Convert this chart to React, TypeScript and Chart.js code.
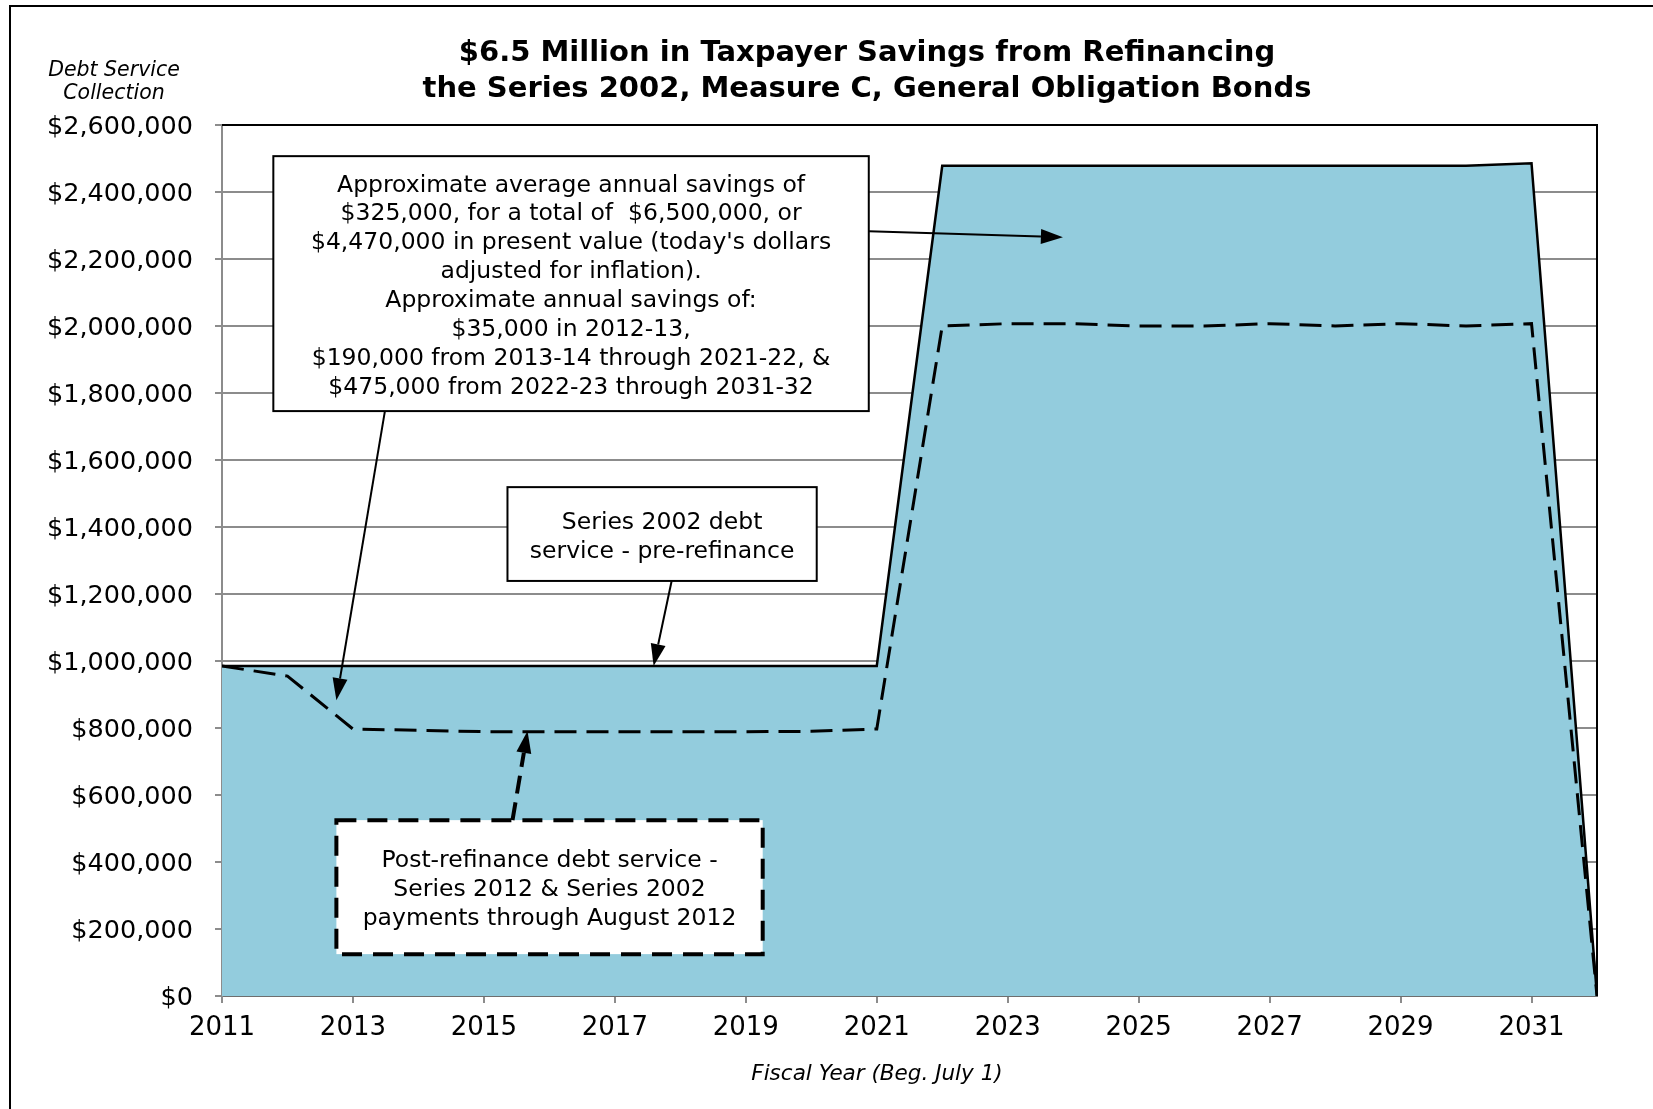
import React, { useEffect, useRef } from "react";
import { Chart, registerables } from "chart.js";

Chart.register(...registerables);

// ---------- data ----------
const years = [
  2011, 2012, 2013, 2014, 2015, 2016, 2017, 2018, 2019, 2020, 2021,
  2022, 2023, 2024, 2025, 2026, 2027, 2028, 2029, 2030, 2031, 2032,
];

// Series 2002 debt service - pre-refinance (solid line, filled)
const preRefinance = [
  985000, 985000, 985000, 985000, 985000, 985000, 985000, 985000, 985000, 985000, 985000,
  2478000, 2478000, 2478000, 2478000, 2478000, 2478000, 2478000, 2478000, 2478000, 2486000, 0,
];

// Post-refinance debt service (dashed line)
const postRefinance = [
  985000, 955000, 797000, 793000, 789000, 789000, 789000, 789000, 789000, 790000, 797000,
  2000000, 2007000, 2007000, 2000000, 2000000, 2007000, 2000000, 2007000, 2000000, 2007000, 0,
];

const xTickValues = [2011, 2013, 2015, 2017, 2019, 2021, 2023, 2025, 2027, 2029, 2031];
const yMin = 0;
const yMax = 2600000;
const yStep = 200000;

const titleLines = [
  "$6.5 Million in Taxpayer Savings from Refinancing",
  "the Series 2002, Measure C, General Obligation Bonds",
];
const yAxisTitleLines = ["Debt Service", "Collection"];
const xAxisTitle = "Fiscal Year (Beg. July 1)";

// annotation boxes in data units
const boxes = [
  {
    x1: 2011.784, x2: 2020.878, yTop: 2507000, yBottom: 1746000, dashed: false,
    lines: [
      "Approximate average annual savings of",
      "$325,000, for a total of  $6,500,000, or",
      "$4,470,000 in present value (today's dollars",
      "adjusted for inflation).",
      "Approximate annual savings of:",
      "$35,000 in 2012-13,",
      "$190,000 from 2013-14 through 2021-22, &",
      "$475,000 from 2022-23 through 2031-32",
    ],
  },
  {
    x1: 2015.36, x2: 2020.083, yTop: 1519000, yBottom: 1239000, dashed: false,
    lines: ["Series 2002 debt", "service - pre-refinance"],
  },
  {
    x1: 2012.747, x2: 2019.258, yTop: 525000, yBottom: 125000, dashed: true,
    lines: [
      "Post-refinance debt service -",
      "Series 2012 & Series 2002",
      "payments through August 2012",
    ],
  },
];

// arrows in data units (from -> tip)
const arrows = [
  { fx: 2020.878, fy: 2283000, tx: 2023.843, ty: 2265000, dashed: false },
  { fx: 2013.488, fy: 1746000, tx: 2012.747, ty: 883000, dashed: false },
  { fx: 2017.867, fy: 1239000, tx: 2017.592, ty: 985000, dashed: false },
  { fx: 2015.437, fy: 525000, tx: 2015.666, ty: 791000, dashed: true },
];

const FONT = "'DejaVu Sans', 'Liberation Sans', sans-serif";
const FILL = "#93CCDD";

function drawArrow(ctx: CanvasRenderingContext2D, x1: number, y1: number, x2: number, y2: number, dashed: boolean) {
  const ang = Math.atan2(y2 - y1, x2 - x1);
  const headLen = 22;
  const headHalf = 7.5;
  const bx = x2 - headLen * Math.cos(ang);
  const by = y2 - headLen * Math.sin(ang);
  ctx.save();
  ctx.strokeStyle = "#000";
  ctx.lineWidth = dashed ? 4 : 2;
  ctx.setLineDash(dashed ? [18, 9] : []);
  ctx.beginPath();
  ctx.moveTo(x1, y1);
  ctx.lineTo(bx, by);
  ctx.stroke();
  ctx.setLineDash([]);
  ctx.beginPath();
  ctx.moveTo(x2, y2);
  ctx.lineTo(bx + headHalf * Math.sin(ang), by - headHalf * Math.cos(ang));
  ctx.lineTo(bx - headHalf * Math.sin(ang), by + headHalf * Math.cos(ang));
  ctx.closePath();
  ctx.fillStyle = "#000";
  ctx.fill();
  ctx.restore();
}

const decorPlugin = {
  id: "decor",
  beforeDraw(chart: any) {
    const ctx = chart.ctx as CanvasRenderingContext2D;
    ctx.save();
    ctx.fillStyle = "#fff";
    ctx.fillRect(0, 0, chart.width, chart.height);
    ctx.restore();
  },
  afterDraw(chart: any) {
    const ctx = chart.ctx as CanvasRenderingContext2D;
    const xs = chart.scales.x;
    const ys = chart.scales.y;
    const area = chart.chartArea;
    const W = chart.width;
    const H = chart.height;

    // outer frame (cut off at right / bottom)
    ctx.save();
    ctx.strokeStyle = "#000";
    ctx.lineWidth = 2;
    ctx.beginPath();
    ctx.moveTo(10, H);
    ctx.lineTo(10, 6);
    ctx.lineTo(W, 6);
    ctx.stroke();

    // plot area top / right border
    ctx.beginPath();
    ctx.moveTo(area.left, area.top);
    ctx.lineTo(area.right, area.top);
    ctx.lineTo(area.right, area.bottom);
    ctx.stroke();
    ctx.restore();

    // title
    ctx.save();
    ctx.fillStyle = "#000";
    ctx.textAlign = "center";
    ctx.textBaseline = "alphabetic";
    ctx.font = `bold 29px ${FONT}`;
    ctx.fillText(titleLines[0], 867, 61);
    ctx.fillText(titleLines[1], 867, 97);
    ctx.restore();

    // axis titles
    ctx.save();
    ctx.fillStyle = "#000";
    ctx.textAlign = "center";
    ctx.textBaseline = "middle";
    ctx.font = `italic 20.5px ${FONT}`;
    ctx.fillText(yAxisTitleLines[0], 114, 71);
    ctx.fillText(yAxisTitleLines[1], 114, 94);
    ctx.font = `italic 21.5px ${FONT}`;
    ctx.fillText(xAxisTitle, 877, 1074);
    ctx.restore();

    // boxes
    boxes.forEach((b) => {
      const l = xs.getPixelForValue(b.x1);
      const r = xs.getPixelForValue(b.x2);
      const t = ys.getPixelForValue(b.yTop);
      const btm = ys.getPixelForValue(b.yBottom);
      ctx.save();
      ctx.fillStyle = "#fff";
      ctx.fillRect(l, t, r - l, btm - t);
      ctx.strokeStyle = "#000";
      if (b.dashed) {
        ctx.lineWidth = 4;
        ctx.setLineDash([20, 11]);
      } else {
        ctx.lineWidth = 2;
      }
      ctx.strokeRect(l, t, r - l, btm - t);
      ctx.setLineDash([]);
      ctx.fillStyle = "#000";
      ctx.textAlign = "center";
      ctx.textBaseline = "middle";
      ctx.font = `23.5px ${FONT}`;
      const lh = 28.9;
      const cx = (l + r) / 2;
      const cy = (t + btm) / 2 + 3;
      const n = b.lines.length;
      b.lines.forEach((line, i) => {
        ctx.fillText(line, cx, cy + (i - (n - 1) / 2) * lh);
      });
      ctx.restore();
    });

    // arrows
    arrows.forEach((a) => {
      drawArrow(
        ctx,
        xs.getPixelForValue(a.fx),
        ys.getPixelForValue(a.fy),
        xs.getPixelForValue(a.tx),
        ys.getPixelForValue(a.ty),
        a.dashed
      );
    });
  },
};

export default function App() {
  const canvasRef = useRef<HTMLCanvasElement | null>(null);

  useEffect(() => {
    const canvas = canvasRef.current;
    if (!canvas) return;
    const chart = new Chart(canvas, {
      type: "line",
      data: {
        datasets: [
          {
            label: "Post-refinance debt service",
            data: years.map((x, i) => ({ x, y: postRefinance[i] })),
            borderColor: "#000",
            borderWidth: 3,
            borderDash: [22, 10],
            pointRadius: 0,
            fill: false,
            tension: 0,
            order: 0,
          },
          {
            label: "Series 2002 debt service - pre-refinance",
            data: years.map((x, i) => ({ x, y: preRefinance[i] })),
            borderColor: "#000",
            borderWidth: 2.5,
            backgroundColor: FILL,
            fill: "origin",
            pointRadius: 0,
            tension: 0,
            order: 1,
          },
        ],
      },
      options: {
        responsive: false,
        animation: false,
        devicePixelRatio: 1,
        layout: { padding: { top: 125, left: 0, right: 56, bottom: 0 } },
        plugins: {
          legend: { display: false },
          title: { display: false },
          tooltip: { enabled: false },
        },
        scales: {
          x: {
            type: "linear",
            min: 2011,
            max: 2032,
            afterBuildTicks: (s: any) => {
              s.ticks = xTickValues.map((v) => ({ value: v }));
            },
            afterFit: (s: any) => {
              s.height = 113;
            },
            grid: { drawOnChartArea: false, drawTicks: true, tickLength: 7, color: "#8c8c8c", lineWidth: 2 },
            border: { color: "#6e6e6e", width: 2 },
            ticks: {
              color: "#000",
              font: { family: FONT, size: 26 },
              padding: 10,
              maxRotation: 0,
              autoSkip: false,
              callback: (v: any) => String(v),
            },
          },
          y: {
            type: "linear",
            min: yMin,
            max: yMax,
            afterFit: (s: any) => {
              s.width = 222;
            },
            grid: { color: "#8c8c8c", lineWidth: 2, tickLength: 7 },
            border: { color: "#8c8c8c", width: 2 },
            ticks: {
              stepSize: yStep,
              color: "#000",
              font: { family: FONT, size: 25.5 },
              padding: 22,
              labelOffset: 2,
              callback: (v: any) => "$" + Number(v).toLocaleString("en-US"),
            },
          },
        },
      },
      plugins: [decorPlugin],
    });
    return () => chart.destroy();
  }, []);

  return (
    <div style={{ position: "fixed", left: 0, top: 0, width: 1653, height: 1109, background: "#fff" }}>
      <canvas ref={canvasRef} width={1653} height={1109} style={{ display: "block" }} />
    </div>
  );
}
